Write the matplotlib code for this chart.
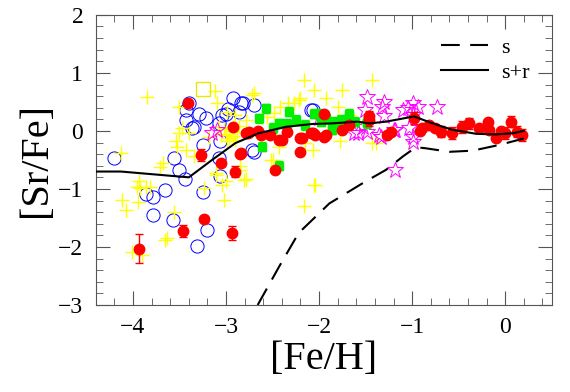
import matplotlib
matplotlib.use("Agg")
import matplotlib.pyplot as plt
from matplotlib.ticker import MultipleLocator

plt.rcParams['font.family'] = ['Liberation Serif', 'DejaVu Serif']

# 数据：[Fe/H] 与 [Sr/Fe]
blue_x = [-4.20, -3.86, -3.79, -3.66, -3.78, -3.57, -3.25, -3.20, -3.31, -3.44, -3.07, -3.56,
          -3.51, -2.92, -3.43, -3.37, -3.29, -3.25, -3.06, -3.00, -2.84, -3.22, -3.40, -3.08,
          -3.43, -3.04, -2.82, -2.70, -2.70, -3.08, -2.07, -2.72, -2.09, -3.34, -2.98, -2.86]
blue_y = [-0.47, -1.09, -1.14, -1.02, -1.45, -1.53, -1.06, -1.71, -1.99, -0.82, -0.78, -0.47,
          -0.67, 0.56, 0.19, 0.05, 0.30, -0.24, -0.18, 0.30, 0.48, 0.22, 0.48, 0.13,
          0.36, 0.28, 0.48, 0.45, -0.36, -0.47, 0.36, -0.33, 0.36, 0.07, 0.38, 0.33]

yellow_x = [-3.85, -2.16, -2.05, -2.22, -2.33, -2.72, -3.12, -3.51, -3.10, -3.54, -3.53, -3.68,
            -3.71, -3.94, -3.96, -4.13, -3.92, -3.86, -3.43, -3.34, -3.11, -3.00, -2.79, -2.50,
            -2.43, -2.04, -3.18, -3.40, -3.51, -3.47, -2.79, -2.56, -2.42, -2.99, -2.90, -3.08,
            -4.12, -4.07, -3.95, -3.82, -3.56, -3.63, -3.66, -4.01, -3.90, -3.24, -3.02, -3.04,
            -3.11, -2.81, -2.16, -2.05, -1.43, -2.70, -1.93, -1.75, -2.20, -2.27, -2.48, -1.39,
            -2.52, -1.78, -2.07, -1.68, -1.80, -1.43, -2.15, -2.85, -2.85,
            -3.00, -2.95, -2.92, -2.97, -3.02, -2.88, -2.93, -2.99, -2.90, -3.05, -2.86]
yellow_y = [0.59, 0.88, 0.71, 0.53, 0.48, 0.62, 0.68, 0.42, 0.48, -0.18, -0.27, -0.56,
            -0.62, -0.87, -0.96, -0.38, -0.98, -0.96, -0.33, -0.44, -0.73, -0.87, -0.82, -0.50,
            -0.27, -0.93, -0.10, -0.04, -0.04, 0.05, 0.19, 0.24, 0.42, 0.33, 0.27, 0.07,
            -1.19, -1.36, -1.22, -0.96, -1.39, -1.85, -1.88, -2.08, -2.14, -0.99, -1.19, -0.93,
            -0.76, -0.84, -1.30, -0.93, 0.88, 0.65, 0.56, 0.71, 0.56, 0.48, 0.31, -0.21,
            -0.50, -0.18, -0.33, 0.28, 0.42, -0.21, -0.21, -0.68, -0.60,
            -0.05, 0.00, -0.08, -0.12, 0.03, -0.02, 0.06, -0.18, -0.15, -0.07, 0.08]

star_x = [-1.48, -1.30, -1.32, -1.51, -1.10, -0.99, -1.04, -0.94, -0.73, -1.30, -0.99, -1.53,
          -1.48, -1.36, -1.18, -1.03, -0.99, -0.99, -1.34, -1.18, -1.58, -1.20, -3.15, -3.10,
          -1.62, -2.00]
star_y = [0.59, 0.50, 0.42, 0.36, 0.36, 0.48, 0.39, 0.42, 0.42, 0.25, 0.27, 0.07,
          -0.01, -0.07, 0.02, 0.05, -0.10, -0.19, -0.10, -0.67, -0.04, 0.02, -0.04, 0.02,
          -0.04, 0.22]

green_x = [-2.57, -2.65, -2.32, -2.43, -2.25, -2.05, -1.93, -2.61, -2.43, -1.98, -1.84, -1.68,
           -1.61, -1.86, -1.48, -2.00, -1.95, -1.86, -1.68, -1.48, -1.76, -2.34, -2.15, -2.50]
green_y = [0.39, 0.22, 0.33, 0.13, 0.19, 0.30, 0.22, -0.27, -0.60, 0.16, 0.16, 0.30,
           0.16, 0.02, 0.16, 0.30, 0.22, 0.05, 0.25, 0.13, 0.19, 0.12, 0.10, 0.05]
green_err = [0.08, 0.08, 0.08, 0.08, 0.08, 0.08, 0.08, 0.08, 0.08, 0.08, 0.08, 0.08,
             0.08, 0.08, 0.08, 0.08, 0.08, 0.08, 0.08, 0.08, 0.08, 0.08, 0.08, 0.08]

red_x = [-3.41, -2.925, -2.76, -3.27, -3.05, -2.85, -2.90, -3.93, -3.46, -3.24, -2.94, -2.75,
         -2.66, -2.62, -2.43, -2.40, -2.84, -2.18, -2.20, -2.09, -2.04, -1.95, -1.93, -1.75,
         -1.68, -1.46, -1.27, -2.47, -2.79, -2.20, -2.07, -1.95, -1.46, -1.23, -0.98, -0.89,
         -0.82, -0.69, -0.57, -0.46, -0.39, -0.28, -0.19, -0.17, -0.10, 0.00, 0.06, 0.13,
         0.18, -0.05, -0.75, -0.92, -2.34, -2.53]
red_y = [0.48, 0.07, -0.04, -0.41, -0.55, -0.40, -0.70, -2.03, -1.72, -1.51, -1.76, -0.01,
         0.00, -0.07, -0.16, -0.16, -0.38, -0.13, -0.37, -0.04, -0.07, 0.30, -0.07, 0.02,
         0.10, 0.25, -0.07, -0.67, -0.04, -0.13, -0.04, -0.10, 0.19, -0.01, 0.22, 0.05,
         0.10, -0.01, -0.04, 0.07, 0.13, 0.05, 0.16, 0.02, -0.13, -0.04, 0.16, -0.01,
         -0.07, 0.00, 0.05, 0.00, -0.02, -0.07]
red_err = [0.0, 0.0, 0.0, 0.10, 0.0, 0.0, 0.10, 0.25, 0.10, 0.0, 0.12, 0.0,
           0.0, 0.0, 0.0, 0.0, 0.0, 0.0, 0.0, 0.0, 0.0, 0.0, 0.0, 0.0,
           0.0, 0.10, 0.0, 0.0, 0.0, 0.0, 0.0, 0.0, 0.10, 0.0, 0.10, 0.0,
           0.0, 0.10, 0.10, 0.10, 0.10, 0.0, 0.0, 0.0, 0.0, 0.10, 0.10, 0.10,
           0.10, 0.0, 0.0, 0.0, 0.0, 0.0]

square_x = [-3.25]
square_y = [0.72]

# 模型曲线
sr_x = [-4.4, -4.13, -3.40, -3.15, -2.90, -2.65, -2.36, -2.07, -1.86, -1.59, -1.46, -1.28,
        -0.98, -0.78, -0.57, -0.31, -0.10, 0.08, 0.20]
sr_y = [-0.70, -0.70, -0.80, -0.50, -0.21, -0.04, 0.07, 0.12, 0.13, 0.16, 0.13, 0.16,
        0.25, 0.13, 0.02, -0.05, -0.06, -0.04, 0.00]
s_x = [-2.66, -2.43, -2.22, -1.89, -1.50, -1.28, -1.10, -0.96, -0.85, -0.60, -0.35, -0.06, 0.20]
s_y = [-3.0, -2.34, -1.76, -1.25, -0.87, -0.67, -0.44, -0.28, -0.30, -0.36, -0.34, -0.24, -0.13]

fig = plt.figure(figsize=(5.7, 3.92), dpi=100)
ax = fig.add_axes([0.168, 0.222, 0.800, 0.740])

ax.plot(blue_x, blue_y, 'o', mfc='none', mec='#0000ff', mew=0.7, ms=9.5, zorder=2)
ax.plot(yellow_x, yellow_y, '+', color='#ffff00', mew=1.0, ms=10, zorder=3)
ax.plot(square_x, square_y, 's', mfc='none', mec='#e8e800', mew=1.0, ms=9.5, zorder=3)
ax.plot(star_x, star_y, '*', mfc='none', mec='#ff00ff', mew=0.7, ms=12, zorder=4)
ax.errorbar(green_x, green_y, yerr=green_err, fmt='s', color='#00ee00', ms=6,
            elinewidth=1, capsize=3, zorder=5)
ax.errorbar(red_x, red_y, yerr=red_err, fmt='o', color='#ff0000', ms=7.5,
            elinewidth=1, capsize=3, zorder=6)

ax.plot(s_x, s_y, color='black', lw=1.5, linestyle=(0, (9, 5)), label='s', zorder=7)
ax.plot(sr_x, sr_y, color='black', lw=1.5, label='s+r', zorder=7)

ax.set_xlim(-4.4, 0.5)
ax.set_ylim(-3, 2)
ax.xaxis.set_major_locator(MultipleLocator(1))
ax.xaxis.set_minor_locator(MultipleLocator(0.2))
ax.yaxis.set_major_locator(MultipleLocator(1))
ax.yaxis.set_minor_locator(MultipleLocator(0.2))
ax.tick_params(which='both', direction='in', top=True, right=True, color='#555555',
               labelsize=17, pad=9)
ax.tick_params(which='major', length=10)
ax.tick_params(which='minor', length=5)
for sp in ax.spines.values():
    sp.set_color('#555555')

ax.set_xlabel('[Fe/H]', fontsize=29, labelpad=2)
ax.set_ylabel('[Sr/Fe]', fontsize=29, labelpad=2)

ax.legend(loc='upper right', frameon=False, fontsize=16, handlelength=2.1,
          handletextpad=0.6, borderaxespad=0.6, labelspacing=0.2)

fig.savefig('out.png', dpi=100)
